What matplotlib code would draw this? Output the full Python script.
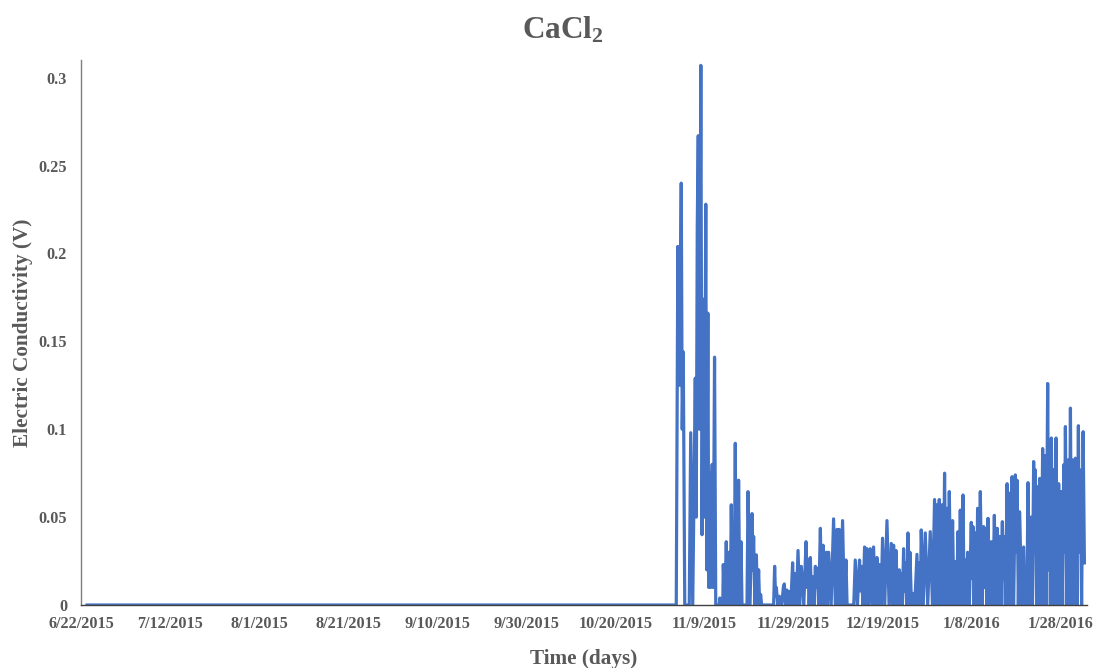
import matplotlib
matplotlib.use("Agg")
import matplotlib.pyplot as plt
import matplotlib.ticker as mticker
import pandas as pd

# logger record: days since the first reading, conductivity in volts
START = pd.Timestamp("2015-06-22")

days = [
    1.35, 133.71, 134.07, 134.43, 134.83, 135.05, 135.28, 135.62, 136.63, 136.96,
    137.41, 137.98, 138.20, 138.43, 138.65, 138.94, 139.23, 139.50, 139.77, 140.04,
    140.34, 140.56, 140.81, 141.01, 141.21, 141.48, 141.78, 142.02, 142.31, 142.58,
    143.37, 143.50, 143.66, 144.16, 144.27, 144.61, 144.94, 145.28, 145.62, 145.85,
    146.07, 146.25, 146.45, 146.70, 146.97, 147.17, 147.35, 147.53, 147.71, 147.98,
    148.25, 148.48, 149.60, 149.83, 150.28, 150.73, 150.91, 151.09, 151.38, 151.70,
    151.97, 152.21, 152.44, 152.66, 152.89, 155.58, 155.81, 156.01, 156.19, 156.52,
    156.86, 157.42, 157.76, 157.98, 158.27, 158.59, 158.84, 159.11, 159.44, 159.85,
    160.07, 160.30, 160.68, 161.06, 161.42, 161.80, 162.36, 162.86, 163.08, 163.31,
    163.56, 163.83, 164.10, 164.35, 164.64, 164.96, 165.14, 165.34, 165.70, 166.08,
    166.37, 166.69, 167.05, 167.43, 167.69, 167.94, 168.50, 169.05, 169.44, 169.82,
    170.06, 170.33, 170.69, 171.07, 171.45, 171.83, 172.08, 173.58, 173.92, 174.41,
    174.88, 175.09, 175.26, 175.65, 176.01, 176.28, 176.55, 176.90, 177.29, 177.67,
    178.03, 178.41, 178.79, 179.08, 179.38, 179.71, 180.05, 180.54, 181.04, 181.51,
    182.01, 182.28, 182.53, 182.80, 183.07, 183.43, 183.81, 183.95, 184.15, 184.48,
    184.78, 184.98, 185.16, 185.45, 185.75, 185.98, 186.20, 186.54, 186.88, 187.28,
    187.78, 188.02, 188.29, 188.52, 188.74, 189.19, 189.64, 190.20, 190.76, 191.26,
    191.73, 192.00, 192.27, 192.52, 192.79, 193.08, 193.40, 193.69, 193.98, 194.25,
    194.52, 194.77, 195.04, 195.40, 195.78, 196.07, 196.39, 196.68, 196.99, 197.24,
    197.51, 197.80, 198.12, 198.37, 198.63, 198.90, 199.15, 199.54, 199.98, 200.16,
    200.37, 200.61, 200.88, 201.15, 201.40, 201.69, 202.01, 202.37, 202.75, 202.96,
    203.13, 203.45, 203.74, 204.15, 204.49, 204.82, 205.16, 205.50, 205.83, 206.10,
    206.35, 206.64, 206.96, 207.12, 207.25, 207.63, 208.02, 208.26, 208.53, 208.83,
    209.14, 209.50, 209.88, 210.06, 210.26, 210.55, 210.85, 211.29, 211.74, 212.01,
    212.46, 212.73, 213.07, 213.40, 213.70, 213.99, 214.19, 214.37, 214.64, 214.89,
    215.11, 215.34, 215.68, 216.01, 216.24, 216.46, 216.80, 217.14, 217.34, 217.52,
    217.74, 217.97, 218.24, 218.48, 218.75, 219.03, 219.32, 219.61, 219.93, 220.22,
    220.49, 220.74, 220.94, 221.12, 221.44, 221.73, 221.98, 222.25, 222.52, 222.76,
    223.06, 223.37, 223.71, 224.04, 224.22, 224.43, 224.76, 225.10, 225.39,
]

conductivity = [
    0.0, 0.0, 0.204, 0.125, 0.240, 0.100, 0.144, 0.0, 0.0, 0.098,
    0.0, 0.129, 0.050, 0.216, 0.267, 0.100, 0.307, 0.040, 0.174, 0.050,
    0.228, 0.020, 0.166, 0.010, 0.075, 0.010, 0.080, 0.010, 0.141, 0.0,
    0.0, 0.004, 0.0, 0.0, 0.023, 0.0, 0.036, 0.0, 0.030, 0.0,
    0.057, 0.020, 0.045, 0.0, 0.092, 0.0, 0.022, 0.0, 0.071, 0.0,
    0.036, 0.0, 0.0, 0.0645, 0.0, 0.052, 0.020, 0.039, 0.0, 0.0285,
    0.0, 0.020, 0.0, 0.006, 0.0, 0.0, 0.022, 0.005, 0.010, 0.0,
    0.005, 0.0, 0.010, 0.012, 0.0, 0.0085, 0.0, 0.0076, 0.0, 0.024,
    0.0, 0.018, 0.0, 0.031, 0.0, 0.022, 0.0, 0.036, 0.010, 0.026,
    0.0, 0.027, 0.0, 0.016, 0.0, 0.022, 0.010, 0.021, 0.0, 0.0436,
    0.0, 0.034, 0.0, 0.030, 0.0, 0.030, 0.0, 0.049, 0.0, 0.043,
    0.0, 0.043, 0.0, 0.048, 0.0, 0.0256, 0.0, 0.0, 0.0256, 0.0,
    0.0256, 0.008, 0.022, 0.0, 0.033, 0.0, 0.032, 0.0, 0.032, 0.0,
    0.033, 0.0, 0.027, 0.0, 0.023, 0.0, 0.038, 0.0, 0.048, 0.0,
    0.035, 0.0, 0.034, 0.0, 0.031, 0.0, 0.020, 0.0, 0.018, 0.0,
    0.032, 0.008, 0.024, 0.0, 0.041, 0.0, 0.030, 0.0, 0.0066, 0.0,
    0.0288, 0.0, 0.024, 0.0, 0.0427, 0.0, 0.041, 0.0, 0.0417, 0.0,
    0.060, 0.0, 0.057, 0.0, 0.060, 0.0, 0.057, 0.0, 0.075, 0.0,
    0.055, 0.0, 0.0645, 0.0, 0.048, 0.0, 0.0247, 0.0, 0.0417, 0.0,
    0.054, 0.0, 0.0626, 0.0, 0.0256, 0.0, 0.030, 0.0, 0.047, 0.015,
    0.0446, 0.0, 0.041, 0.0, 0.055, 0.0, 0.0645, 0.0, 0.0446, 0.010,
    0.0436, 0.0, 0.0493, 0.0, 0.036, 0.0, 0.051, 0.0, 0.0436, 0.0,
    0.039, 0.0, 0.0474, 0.015, 0.039, 0.0, 0.069, 0.0, 0.0636, 0.0,
    0.073, 0.0, 0.074, 0.030, 0.071, 0.0, 0.053, 0.0, 0.033, 0.0,
    0.0, 0.0696, 0.0, 0.050, 0.0, 0.0816, 0.030, 0.0768, 0.0, 0.0673,
    0.0, 0.072, 0.0, 0.089, 0.0, 0.085, 0.0, 0.126, 0.020, 0.094,
    0.0, 0.095, 0.0, 0.077, 0.0, 0.095, 0.0, 0.069, 0.0, 0.0645,
    0.0, 0.0797, 0.030, 0.1015, 0.0, 0.0825, 0.0, 0.112, 0.0, 0.0825,
    0.0, 0.0835, 0.0, 0.102, 0.030, 0.0768, 0.0, 0.0986, 0.024,
]

TEXT_GREY = "#595959"
LINE_BLUE = "#4472C4"

plt.rcParams["font.family"] = ["Liberation Serif", "DejaVu Serif"]
plt.rcParams["font.weight"] = "bold"
plt.rcParams["mathtext.fontset"] = "custom"
plt.rcParams["mathtext.rm"] = "Liberation Serif:bold"
plt.rcParams["mathtext.it"] = "Liberation Serif:bold"
plt.rcParams["mathtext.bf"] = "Liberation Serif:bold"

times = START + pd.to_timedelta(days, unit="D")

fig = plt.figure(figsize=(10.96, 6.68), dpi=100)
ax = fig.add_axes([0.0739, 0.0943, 0.918, 0.8157])

ax.plot(times, conductivity, color=LINE_BLUE, linewidth=2.3, solid_joinstyle="round")

ax.set_xlim(START, START + pd.Timedelta(days=226))
ax.set_ylim(0, 0.31)

# x labels every 20 days, US style without leading zeros
tick_dates = pd.date_range(START, periods=12, freq="20D")
ax.set_xticks(tick_dates)
ax.set_xticklabels([f"{d.month}/{d.day}/{d.year}" for d in tick_dates])
ax.set_yticks([0, 0.05, 0.1, 0.15, 0.2, 0.25, 0.3])
ax.yaxis.set_major_formatter(mticker.FuncFormatter(lambda v, _: f"{v:g}"))

ax.tick_params(axis="both", length=0, labelsize=11.7, labelcolor=TEXT_GREY)
ax.tick_params(axis="x", pad=8)
ax.tick_params(axis="y", pad=10)

for side in ("top", "right"):
    ax.spines[side].set_visible(False)
ax.spines["left"].set_color("#7f7f7f")
ax.spines["bottom"].set_color("#404040")
ax.spines["left"].set_linewidth(1.0)
ax.spines["bottom"].set_linewidth(1.0)

ax.set_xlabel("Time (days)", fontsize=15.3, color=TEXT_GREY, fontweight="bold", labelpad=12)
ax.set_ylabel("Electric Conductivity (V)", fontsize=15.3, color=TEXT_GREY, fontweight="bold", labelpad=4)
fig.text(0.514, 0.955, r"CaCl$_2$", ha="center", va="center",
         fontsize=22.5, color=TEXT_GREY, fontweight="bold")

fig.savefig("out.png", dpi=100)
